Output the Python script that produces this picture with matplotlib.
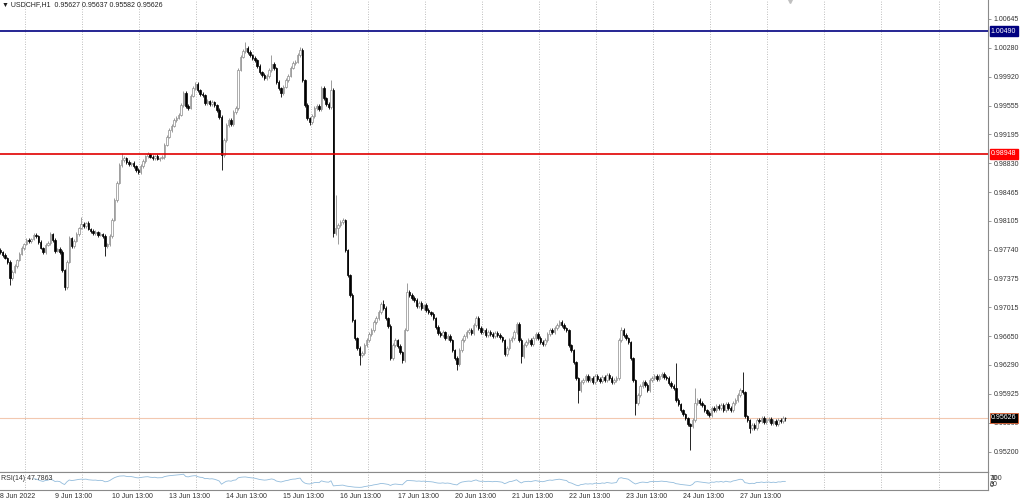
import numpy as np
import matplotlib.pyplot as plt
from matplotlib.transforms import blended_transform_factory

# USDCHF H1, 8 Jun 2022 14:00 .. 28 Jun 2022
first_open = 0.97740
closes = [
    0.97712, 0.97674, 0.97637, 0.97586, 0.97385, 0.97460, 0.97536, 0.97611, 0.97687, 0.97762,
    0.97813, 0.97863, 0.97851, 0.97876, 0.97926, 0.97913, 0.97838, 0.97762, 0.97712, 0.97800,
    0.97825, 0.97939, 0.97863, 0.97725, 0.97750, 0.97712, 0.97486, 0.97271, 0.97586, 0.97888,
    0.97788, 0.97851, 0.97939, 0.98014, 0.98065, 0.98039, 0.98077, 0.98002, 0.97976, 0.97951,
    0.97964, 0.97926, 0.97939, 0.97913, 0.97788, 0.97813, 0.97913, 0.98115, 0.98367, 0.98581,
    0.98807, 0.98870, 0.98895, 0.98845, 0.98820, 0.98832, 0.98795, 0.98744, 0.98719, 0.98795,
    0.98857, 0.98920, 0.98946, 0.98908, 0.98895, 0.98920, 0.98883, 0.98895, 0.98908, 0.99059,
    0.99160, 0.99248, 0.99298, 0.99374, 0.99399, 0.99437, 0.99562, 0.99713, 0.99550, 0.99525,
    0.99676, 0.99776, 0.99827, 0.99751, 0.99701, 0.99688, 0.99588, 0.99613, 0.99575, 0.99600,
    0.99562, 0.99499, 0.99411, 0.98933, 0.99122, 0.99311, 0.99374, 0.99323, 0.99474, 0.99525,
    1.00003, 1.00166, 1.00242, 1.00280, 1.00229, 1.00192, 1.00154, 1.00129, 1.00053, 0.99978,
    0.99940, 0.99902, 0.99927, 1.00003, 1.00078, 1.00028, 0.99852, 0.99776, 0.99713, 0.99789,
    0.99877, 0.99927, 1.00028, 1.00091, 1.00104, 1.00192, 1.00255, 0.99877, 0.99562, 0.99399,
    0.99348, 0.99424, 0.99525, 0.99550, 0.99512, 0.99776, 0.99650, 0.99575, 0.99537, 0.99751,
    0.97951, 0.98014, 0.98052, 0.98090, 0.98115, 0.97737, 0.97423, 0.97171, 0.96856, 0.96630,
    0.96504, 0.96416, 0.96441, 0.96541, 0.96604, 0.96680, 0.96730, 0.96831, 0.96881, 0.96957,
    0.97058, 0.97007, 0.96881, 0.96781, 0.96378, 0.96541, 0.96604, 0.96529, 0.96453, 0.96353,
    0.96730, 0.97209, 0.97171, 0.97133, 0.97108, 0.97032, 0.97070, 0.97007, 0.97045, 0.96982,
    0.96957, 0.96932, 0.96881, 0.96768, 0.96693, 0.96667, 0.96705, 0.96630, 0.96655, 0.96604,
    0.96479, 0.96378, 0.96302, 0.96479, 0.96604, 0.96655, 0.96705, 0.96730, 0.96693, 0.96793,
    0.96881, 0.96756, 0.96705, 0.96730, 0.96667, 0.96705, 0.96680, 0.96655, 0.96693, 0.96667,
    0.96642, 0.96604, 0.96428, 0.96504, 0.96604, 0.96630, 0.96705, 0.96806, 0.96604, 0.96403,
    0.96541, 0.96579, 0.96604, 0.96554, 0.96630, 0.96680, 0.96630, 0.96579, 0.96554, 0.96604,
    0.96680, 0.96730, 0.96705, 0.96756, 0.96793, 0.96831, 0.96793, 0.96756, 0.96730, 0.96541,
    0.96479, 0.96327, 0.96126, 0.95975, 0.96076, 0.96101, 0.96151, 0.96101, 0.96126, 0.96076,
    0.96151, 0.96113, 0.96088, 0.96139, 0.96101, 0.96164, 0.96126, 0.96076, 0.96101, 0.96126,
    0.96604, 0.96730, 0.96667, 0.96630, 0.96579, 0.96378, 0.96101, 0.95811, 0.95912, 0.96025,
    0.96076, 0.96038, 0.95975, 0.96101, 0.96126, 0.96151, 0.96113, 0.96151, 0.96176, 0.96139,
    0.96126, 0.96063, 0.96025, 0.96000, 0.95849, 0.95799, 0.95723, 0.95673, 0.95623, 0.95547,
    0.95522, 0.95597, 0.95811, 0.95849, 0.95811, 0.95786, 0.95723, 0.95686, 0.95660, 0.95748,
    0.95723, 0.95774, 0.95748, 0.95786, 0.95723, 0.95799, 0.95748, 0.95723, 0.95811, 0.95849,
    0.95912, 0.95975, 0.95950, 0.95648, 0.95597, 0.95497, 0.95535, 0.95497, 0.95597, 0.95585,
    0.95623, 0.95572, 0.95597, 0.95610, 0.95560, 0.95585, 0.95547, 0.95597, 0.95585, 0.95627,
    0.95626,
]
# wick length above / below the body, in pips
up_wick = [
    2, 1, 2, 1, 2, 3, 2, 1, 2, 2, 1, 3, 2, 1, 2, 2, 1, 2, 1, 3,
    2, 3, 1, 2, 1, 2, 2, 1, 3, 2, 1, 2, 2, 1, 9, 2, 1, 2, 1, 2,
    2, 1, 2, 1, 2, 1, 2, 3, 2, 2, 2, 9, 2, 1, 2, 1, 2, 1, 2, 2,
    2, 1, 2, 1, 2, 1, 2, 1, 2, 2, 2, 2, 3, 2, 2, 2, 3, 3, 2, 2,
    2, 2, 3, 2, 1, 2, 1, 2, 1, 2, 1, 1, 2, 2, 2, 2, 2, 2, 2, 2,
    2, 3, 2, 8, 2, 2, 1, 2, 1, 2, 1, 2, 2, 2, 11, 2, 1, 2, 1, 2,
    2, 2, 2, 3, 2, 2, 4, 2, 1, 2, 1, 2, 2, 2, 2, 3, 2, 1, 2, 13,
    2, 42, 3, 2, 2, 1, 1, 1, 2, 1, 1, 2, 2, 2, 2, 2, 2, 2, 2, 2,
    3, 5, 2, 1, 2, 2, 2, 1, 2, 1, 2, 11, 2, 2, 2, 2, 2, 2, 1, 2,
    2, 1, 2, 1, 2, 2, 2, 1, 2, 2, 1, 1, 2, 2, 2, 2, 2, 2, 2, 2,
    3, 2, 2, 2, 2, 2, 2, 2, 2, 2, 2, 1, 1, 2, 2, 2, 3, 3, 2, 2,
    2, 2, 2, 2, 2, 2, 2, 2, 2, 2, 2, 2, 2, 2, 2, 3, 2, 2, 1, 1,
    1, 1, 1, 1, 2, 2, 2, 2, 2, 2, 2, 2, 2, 2, 2, 2, 2, 2, 2, 2,
    3, 4, 2, 2, 1, 1, 1, 1, 2, 2, 2, 2, 2, 2, 2, 2, 3, 2, 2, 2,
    2, 2, 2, 2, 31, 2, 1, 1, 1, 1, 1, 2, 19, 2, 2, 2, 1, 1, 2, 2,
    2, 2, 2, 2, 2, 2, 2, 2, 2, 3, 3, 2, 23, 1, 1, 1, 2, 2, 2, 2,
    2, 2, 2, 2, 2, 2, 2, 2, 2, 2, 1.0,
]
dn_wick = [
    2, 2, 1, 3, 9, 2, 1, 2, 1, 1, 2, 1, 2, 2, 1, 2, 2, 1, 2, 2,
    1, 2, 2, 2, 1, 2, 2, 4, 2, 1, 2, 2, 1, 2, 1, 2, 2, 1, 2, 2,
    2, 2, 1, 2, 13, 2, 2, 2, 1, 2, 1, 2, 2, 2, 2, 2, 2, 3, 3, 2,
    2, 2, 2, 1, 2, 2, 1, 2, 1, 2, 1, 1, 2, 1, 2, 1, 1, 2, 3, 2,
    1, 1, 2, 2, 2, 2, 2, 2, 2, 2, 2, 2, 2, 19, 3, 2, 2, 2, 2, 2,
    2, 1, 1, 2, 2, 2, 2, 2, 2, 2, 2, 2, 2, 2, 2, 2, 2, 2, 5, 2,
    1, 2, 1, 1, 2, 1, 2, 2, 2, 2, 4, 2, 2, 2, 2, 2, 2, 2, 2, 2,
    5, 3, 20, 2, 2, 2, 2, 2, 2, 2, 2, 13, 3, 2, 2, 2, 2, 2, 2, 2,
    2, 2, 2, 2, 3, 2, 2, 2, 2, 4, 2, 1, 2, 2, 2, 2, 2, 2, 2, 2,
    2, 2, 2, 2, 2, 2, 2, 2, 2, 2, 2, 2, 8, 2, 2, 2, 2, 2, 2, 2,
    2, 2, 2, 2, 2, 2, 2, 2, 2, 2, 2, 2, 3, 2, 2, 2, 2, 2, 2, 9,
    2, 2, 2, 2, 2, 2, 2, 2, 2, 2, 2, 2, 2, 2, 2, 2, 2, 2, 2, 2,
    2, 2, 2, 16, 2, 2, 2, 2, 2, 2, 2, 2, 2, 2, 2, 2, 2, 2, 2, 2,
    2, 2, 2, 2, 2, 2, 2, 15, 3, 2, 2, 2, 2, 2, 2, 2, 2, 2, 2, 2,
    2, 2, 2, 2, 2, 2, 2, 2, 2, 2, 30, 2, 2, 2, 2, 2, 2, 2, 2, 2,
    2, 2, 2, 2, 2, 2, 2, 2, 2, 2, 2, 2, 2, 2, 2, 6, 2, 2, 2, 2,
    2, 2, 2, 2, 2, 2, 2, 2, 2, 2, 4.4,
]

price_ticks = [1.00645, 1.00280, 0.99920, 0.99555, 0.99195, 0.98830, 0.98465, 0.98105,
               0.97740, 0.97375, 0.97015, 0.96650, 0.96290, 0.95925, 0.95560, 0.95200]
date_labels = ['9 Jun 13:00', '10 Jun 13:00', '13 Jun 13:00', '14 Jun 13:00', '15 Jun 13:00',
               '16 Jun 13:00', '17 Jun 13:00', '20 Jun 13:00', '21 Jun 13:00', '22 Jun 13:00',
               '23 Jun 13:00', '24 Jun 13:00', '27 Jun 13:00']
first_date = '8 Jun 2022'
level_blue = 1.00490
level_red = 0.98948
bid = 0.95626
title = '▼ USDCHF,H1  0.95627 0.95637 0.95582 0.95626'
rsi_title = 'RSI(14) 47.7863'

BARS_PER_DAY = 24
FIRST_MIDNIGHT = 10   # bar 0 is 8 Jun 14:00
FIRST_LABEL = 23      # 9 Jun 13:00

plt.rcParams['font.family'] = ['Liberation Sans', 'DejaVu Sans']
FS = 5.0
GRID = '#a8a8a8'
AXIS = '#8a8a8a'


def rsi(values, period=14):
    """RSI (Wilder)"""
    d = np.diff(values)
    gain = np.where(d > 0, d, 0.0)
    loss = np.where(d < 0, -d, 0.0)
    out = np.full(len(values), np.nan)
    ag = gain[:period].mean()
    al = loss[:period].mean()
    out[period] = 100 - 100 / (1 + ag / al)
    for i in range(period + 1, len(values)):
        ag = (ag * (period - 1) + gain[i - 1]) / period
        al = (al * (period - 1) + loss[i - 1]) / period
        out[i] = 100 - 100 / (1 + ag / al)
    return out


c = np.array(closes)
o = np.concatenate([[first_open], c[:-1]])
hi = np.maximum(o, c) + np.array(up_wick) * 1e-4
lo = np.minimum(o, c) - np.array(dn_wick) * 1e-4
idx = np.arange(len(c))
bull = c >= o

fig = plt.figure(figsize=(10.24, 5.01), dpi=100)
W, H = 1024, 501
ax = fig.add_axes([0, (H - 472) / H, 988 / W, 472 / H])
ax_r = fig.add_axes([0, (H - 490) / H, 988 / W, 18 / H], sharex=ax)

xlim = (-0.13, 415.2)
ax.set_xlim(*xlim)
ax.set_ylim(0.94943, 1.00884)

# candles
ax.vlines(idx[bull], lo[bull], hi[bull], color='#8c8c8c', lw=0.6, zorder=2)
ax.vlines(idx[~bull], lo[~bull], hi[~bull], color='black', lw=0.6, zorder=2)
ax.bar(idx[bull], (c - o)[bull], bottom=o[bull], width=0.62,
       color='white', edgecolor='#8c8c8c', lw=0.5, zorder=3)
ax.bar(idx[~bull], (o - c)[~bull], bottom=c[~bull], width=0.62,
       color='black', edgecolor='black', lw=0.5, zorder=3)

# levels
ax.axhline(level_blue, color='#000080', lw=1.2, zorder=4)
ax.axhline(level_red, color='#e00000', lw=1.2, zorder=4)
ax.axhline(bid, color='#f2c8b0', lw=0.8, zorder=1)

# vertical grid at midnight
for ax_ in (ax, ax_r):
    for g in range(FIRST_MIDNIGHT, int(xlim[1]) + 1, BARS_PER_DAY):
        ax_.axvline(g + 0.4, color=GRID, lw=0.6, ls=(0, (1, 2)), zorder=0)

# price axis on the right
ax.yaxis.tick_right()
ax.set_yticks(price_ticks)
ax.set_yticklabels(['%.5f' % p for p in price_ticks])
ax.tick_params(axis='y', labelsize=FS, length=2, width=0.6, color=AXIS,
               pad=2, labelcolor='#333333')
ax.tick_params(axis='x', bottom=False, labelbottom=False)
for s in ('top', 'left'):
    ax.spines[s].set_visible(False)
for s in ('right', 'bottom'):
    ax.spines[s].set_color(AXIS)
    ax.spines[s].set_linewidth(0.8)

ytr = ax.get_yaxis_transform()
box_kw = dict(transform=ytr, ha='left', va='center', fontsize=FS, color='white', zorder=10)
ax.text(1.003, level_blue, '%.5f' % level_blue,
        bbox=dict(boxstyle='square,pad=0.2', fc='#000080', ec='#000080'), **box_kw)
ax.text(1.003, level_red, '%.5f' % level_red,
        bbox=dict(boxstyle='square,pad=0.2', fc='#ff0000', ec='#ff0000'), **box_kw)
ax.text(1.003, bid, '%.5f' % bid,
        bbox=dict(boxstyle='square,pad=0.2', fc='black', ec='#e06030', lw=0.6), **box_kw)

fig.text(2 / W, 1 - 5 / H, title, fontsize=FS, color='#202020', ha='left', va='center')
# chart shift marker
ax.plot([332], [1.00884], marker='v', ms=5, color='#c0c0c0', clip_on=False, zorder=5)

# RSI window
r = rsi(c)
ax_r.plot(idx, r, color='#93bcdc', lw=0.6)
ax_r.set_ylim(0, 100)
ax_r.set_xticks([])
ax_r.set_yticks([])
ax_r.spines['left'].set_visible(False)
for s in ('right', 'bottom', 'top'):
    ax_r.spines[s].set_color(AXIS)
    ax_r.spines[s].set_linewidth(0.8)
ax_r.text(0.001, 0.66, rsi_title, transform=ax_r.transAxes, fontsize=FS,
          color='#303030', ha='left', va='center')
for txt, yy in (('100', 478), ('70', 478.5), ('30', 485), ('0', 485.5)):
    fig.text(990 / W, 1 - yy / H, txt, fontsize=FS, color='#333333', ha='left', va='center')

# time labels
xtr = blended_transform_factory(ax_r.transData, ax_r.transAxes)
ax_r.text(-0.1, -0.15, first_date, transform=xtr, fontsize=FS, color='#303030',
          ha='left', va='top')
for k, lab in enumerate(date_labels):
    ax_r.text(FIRST_LABEL + k * BARS_PER_DAY, -0.15, lab, transform=xtr, fontsize=FS,
              color='#303030', ha='left', va='top')

fig.savefig('out.png', dpi=100)
